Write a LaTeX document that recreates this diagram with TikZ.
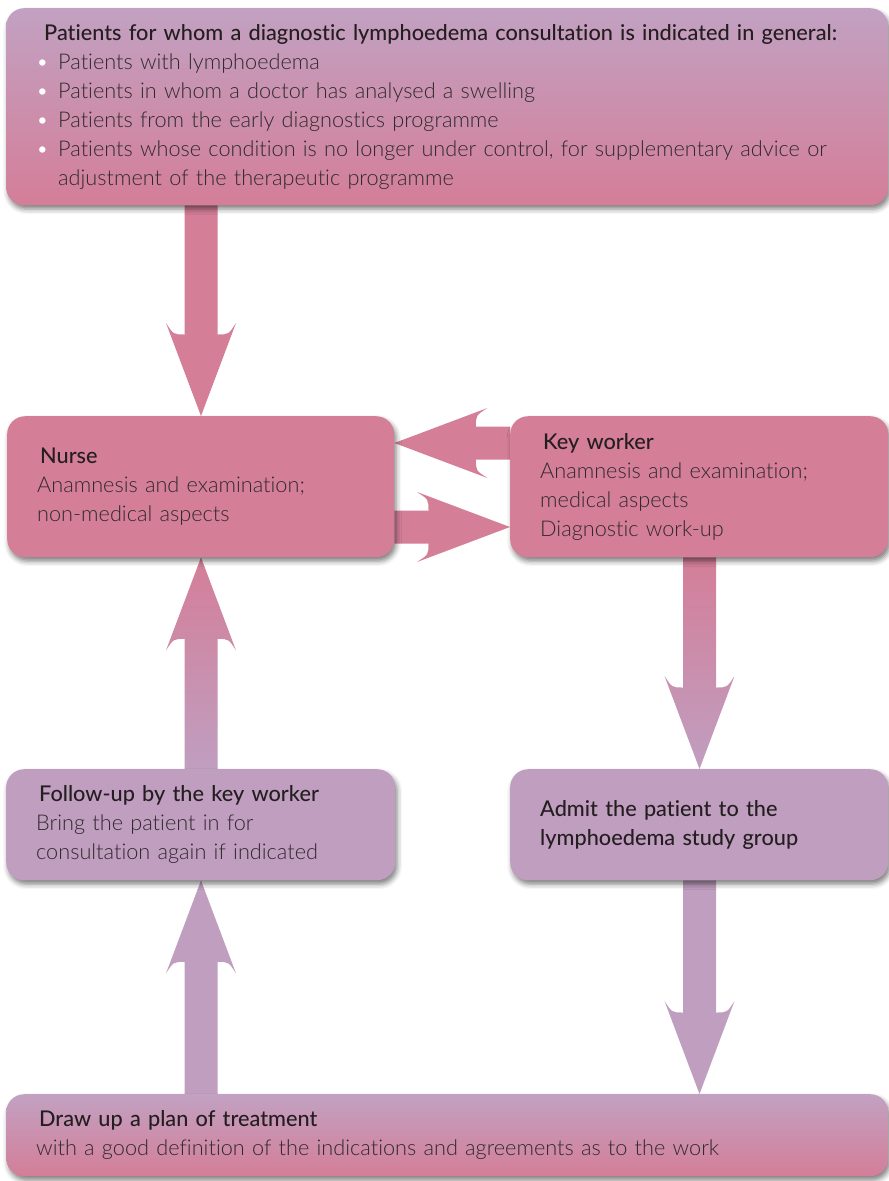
\documentclass[tikz,border=0pt]{standalone}
\usepackage{fontspec}
\usetikzlibrary{calc,shadows.blur}
\IfFontExistsTF{Lato Light}{\newfontfamily\bodyfont{Lato Light}[Ligatures=NoCommon]}{\newfontfamily\bodyfont{Lato}[Ligatures=NoCommon]}
\IfFontExistsTF{Lato Medium}{\newfontfamily\headfont{Lato Medium}[Ligatures=NoCommon]}{\newfontfamily\headfontbase{Lato}[Ligatures=NoCommon]\newcommand\headfont{\headfontbase\bfseries}}
\pgfdeclarelayer{bg}\pgfsetlayers{bg,main}
\definecolor{pinkc}{RGB}{212,126,152}
\definecolor{purplec}{RGB}{192,158,192}
\definecolor{toppurple}{RGB}{194,161,194}
\definecolor{headc}{RGB}{36,30,32}
\definecolor{bodyc}{RGB}{48,42,44}
\tikzset{
  box/.style={rounded corners=18pt, anchor=north west, inner xsep=30pt, inner ysep=0pt,
    align=left, font=\bodyfont\fontsize{21.7}{29}\selectfont, text=bodyc,
    blur shadow={shadow xshift=2pt, shadow yshift=-4pt, shadow blur radius=5pt, shadow opacity=50}},
  pinkbox/.style={box, fill=pinkc},
  purplebox/.style={box, fill=purplec},
  gradbox/.style={box, top color=toppurple, bottom color=pinkc},
  pinkarrow/.style={fill=pinkc},
  purplearrow/.style={fill=purplec},
  gradarrow/.style={top color=pinkc, bottom color=purplec},
}
\newcommand\hd[1]{{\headfont\color{headc}#1}}
\newcommand\bul{\makebox[22pt][l]{\textcolor{white}{\textbullet}}}
% vertical block arrow: #2 = +1 (up) or -1 (down) in canvas
\newcommand\varrow[4][]{%
  \path[#1] let \p1=#3, \p2=#4 in
    ({\x1-16.5pt},{\y1}) -- ({\x1-16.5pt},{\y2-(#2)*81.5pt})
    .. controls ({\x1-27.6pt},{\y2-(#2)*81.5pt}) .. ({\x1-35pt},{\y2-(#2)*93pt})
    -- ({\x1},{\y2})
    -- ({\x1+35pt},{\y2-(#2)*93pt})
    .. controls ({\x1+27.6pt},{\y2-(#2)*81.5pt}) .. ({\x1+16.5pt},{\y2-(#2)*81.5pt})
    -- ({\x1+16.5pt},{\y1}) -- cycle;}
% horizontal block arrow: #2 = +1 (right) or -1 (left)
\newcommand\harrow[4][]{%
  \path[#1] let \p1=#3, \p2=#4 in
    ({\x1},{\y1-16.5pt}) -- ({\x2-(#2)*81.5pt},{\y1-16.5pt})
    .. controls ({\x2-(#2)*81.5pt},{\y1-27.6pt}) .. ({\x2-(#2)*93pt},{\y1-35pt})
    -- ({\x2},{\y1})
    -- ({\x2-(#2)*93pt},{\y1+35pt})
    .. controls ({\x2-(#2)*81.5pt},{\y1+27.6pt}) .. ({\x2-(#2)*81.5pt},{\y1+16.5pt})
    -- ({\x1},{\y1+16.5pt}) -- cycle;}
\begin{document}
\begin{tikzpicture}[x=1pt,y=-1pt]
\useasboundingbox (0,0) rectangle (889,1181);
\node[gradbox, text width=822pt, minimum width=882pt, minimum height=197pt] (top) at (6,8)
 {\hspace*{8pt}\hd{Patients for whom a diagnostic lymphoedema consultation is indicated in general:}\\
  \bul Patients with lymphoedema\\
  \bul Patients in whom a doctor has analysed a swelling\\
  \bul Patients from the early diagnostics programme\\
  \bul Patients whose condition is no longer under control, for supplementary advice or\\
  \hspace*{22pt}adjustment of the therapeutic programme};
\node[pinkbox, text width=327pt, minimum width=387pt, minimum height=141pt] (nurse) at (7,416)
 {\hspace*{3pt}\hd{Nurse}\\ Anamnesis and examination;\\ non-medical aspects};
\node[pinkbox, text width=318pt, minimum width=378pt, minimum height=141pt] (key) at (510,416)
 {\hspace*{3pt}\hd{Key worker}\\ Anamnesis and examination;\\ medical aspects\\ Diagnostic work-up};
\node[purplebox, text width=329pt, minimum width=389pt, minimum height=111pt] (follow) at (6,769)
 {\hspace*{3pt}\hd{Follow-up by the key worker}\\ Bring the patient in for\\ consultation again if indicated};
\node[purplebox, text width=318pt, minimum width=378pt, minimum height=111pt] (admit) at (510,769)
 {\hd{Admit the patient to the}\\ \hd{lymphoedema study group}};
\node[gradbox, text width=822pt, minimum width=882pt, minimum height=82pt] (plan) at (6,1094)
 {\hspace*{3pt}\hd{Draw up a plan of treatment}\\ with a good definition of the indications and agreements as to the work};
\coordinate (lx) at (201,0);
\coordinate (rx) at (699.5,0);
\coordinate (uy) at (0,443);
\coordinate (ly) at (0,527);
\begin{pgfonlayer}{bg}
\varrow[pinkarrow]{-1}{(lx |- top.south)}{(lx |- nurse.north)}
\harrow[pinkarrow]{-1}{(key.west |- uy)}{(nurse.east |- uy)}
\harrow[pinkarrow]{1}{(nurse.east |- ly)}{(key.west |- ly)}
\varrow[gradarrow]{-1}{(rx |- key.south)}{(rx |- admit.north)}
\varrow[purplearrow]{-1}{(rx |- admit.south)}{(rx |- plan.north)}
\varrow[gradarrow]{1}{(lx |- follow.north)}{(lx |- nurse.south)}
\varrow[purplearrow]{1}{(lx |- plan.north)}{(lx |- follow.south)}
\end{pgfonlayer}
\end{tikzpicture}
\end{document}
